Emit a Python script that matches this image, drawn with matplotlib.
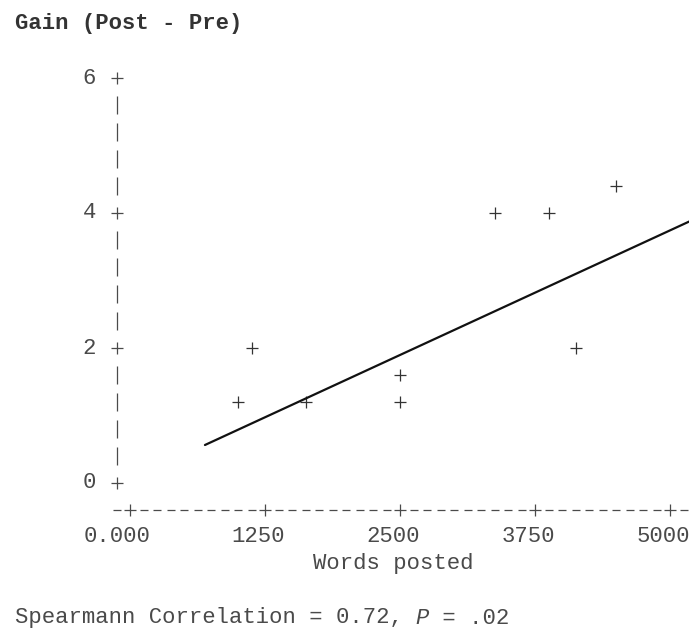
#!/usr/bin/env python3
"""Line-printer style scatter: gain vs words posted, with fitted line."""

import os

os.environ.setdefault("MPLBACKEND", "Agg")

import matplotlib.pyplot as plt
import matplotlib.transforms as mtransforms
import numpy as np

# data (x quantised to 125-word columns, y to 0.4 rows)
words_posted = [1000, 1125, 1625, 2500, 2500, 3375, 3875, 4125, 4500]
gain = [1.2, 2.0, 1.2, 1.6, 1.2, 4.0, 4.0, 2.0, 4.4]

fit_x = [694, 5200]
fit_y = [0.563, 3.89]

x_ticks = [0, 1250, 2500, 3750, 5000]
x_tick_labels = ["0.000", "1250", "2500", "3750", "5000"]
y_ticks = [0, 2, 4, 6]
y_tick_labels = ["0", "2", "4", "6"]

TITLE = "Gain (Post - Pre)"
X_LABEL = "Words posted"
# note split so that the P can be set in italics
NOTE_PARTS = [("Spearmann Correlation = 0.72, ", "normal"),
              ("P", "italic"),
              (" = .02", "normal")]

COL = 125.0  # one print column in data units
ROW = 0.4    # one print row in data units
FONT = "Liberation Mono"
FS = 16
TEXT_C = "#4a4a4a"

W, H = 689, 630
fig = plt.figure(figsize=(W / 100, H / 100), dpi=100, facecolor="white")
ax = fig.add_axes([130 / W, 147 / H, 540 / W, 405 / H])
ax.set_xlim(0, 5000)
ax.set_ylim(0, 6)
ax.axis("off")

# vertical axis: '+' at ticks, '|' on the rows between
y_axis_x = -COL
rows = np.arange(0, 16) * ROW
bar_rows = [r for r in rows if not any(np.isclose(r, t) for t in y_ticks)]
ax.plot([y_axis_x] * len(bar_rows), bar_rows, ls="none", marker="|",
        ms=12.5, mew=0.9, color=TEXT_C, clip_on=False)
ax.plot([y_axis_x] * len(y_ticks), y_ticks, ls="none", marker="+",
        ms=8, mew=0.9, color=TEXT_C, clip_on=False)
for t, lab in zip(y_ticks, y_tick_labels):
    ax.text(y_axis_x - 2 * COL, t, lab, ha="center", va="center",
            family=FONT, fontsize=FS, color=TEXT_C)

# horizontal axis: '-' on every column, '+' at ticks
x_axis_y = -ROW
cols = np.arange(-1, 42) * COL
dash_cols = [c for c in cols if not any(np.isclose(c, t) for t in x_ticks)]
ax.plot(dash_cols, [x_axis_y] * len(dash_cols), ls="none", marker="_",
        ms=6, mew=0.9, color=TEXT_C, clip_on=False)
ax.plot(x_ticks, [x_axis_y] * len(x_ticks), ls="none", marker="+",
        ms=8, mew=0.9, color=TEXT_C, clip_on=False)
for t, lab in zip(x_ticks, x_tick_labels):
    ax.text(t + 1.5 * COL, -2 * ROW, lab, ha="right", va="center",
            family=FONT, fontsize=FS, color=TEXT_C)

ax.text(2500 - 0.5 * COL, -3 * ROW, X_LABEL, ha="center", va="center",
        family=FONT, fontsize=FS, color=TEXT_C)

# points and fitted line
ax.plot(words_posted, gain, ls="none", marker="+", ms=8, mew=0.9,
        color="#333333", clip_on=False)
ax.plot(fit_x, fit_y, color="#111111", lw=1.6, clip_on=False,
        solid_capstyle="round")

ax.text(-8.5 * COL, 17 * ROW, TITLE, ha="left", va="center", family=FONT,
        fontsize=FS, fontweight="bold", color="#333333")

# bottom note, pieces laid out by character count (monospace)
n_chars = 0
for piece, style in NOTE_PARTS:
    tr = mtransforms.offset_copy(ax.transData, fig=fig,
                                 x=n_chars * 0.6 * FS, y=0, units="points")
    ax.text(-8.5 * COL, -5 * ROW, piece, ha="left", va="center",
            family=FONT, fontsize=FS, style=style, color=TEXT_C,
            transform=tr)
    n_chars += len(piece)

fig.savefig("out.png", dpi=100, facecolor="white")
